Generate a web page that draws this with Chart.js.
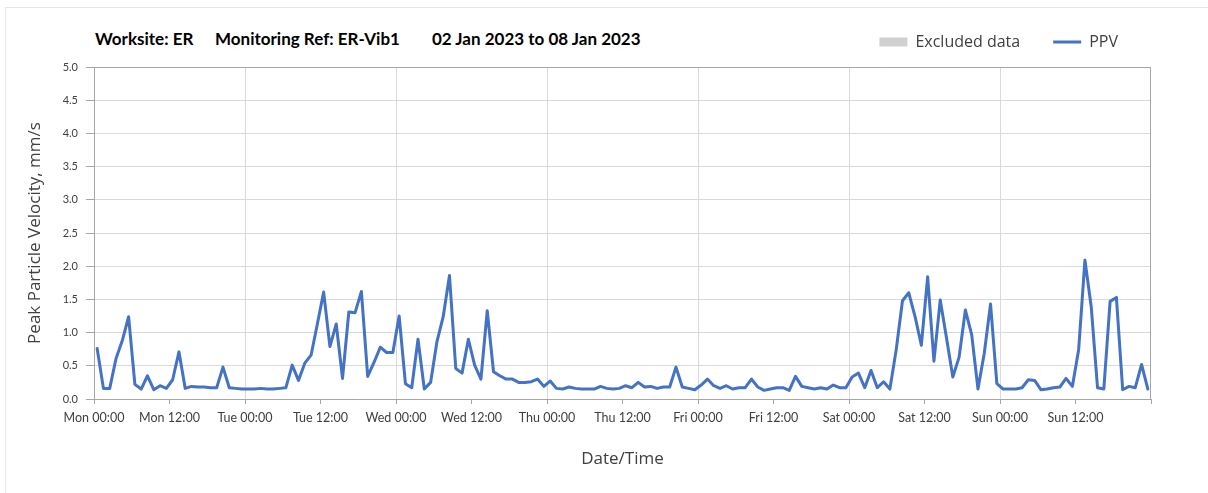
<!DOCTYPE html>
<html>
<head>
<meta charset="utf-8">
<title>PPV ER-Vib1</title>
<script src="https://cdn.jsdelivr.net/npm/chart.js@4.4.0/dist/chart.umd.min.js"></script>
<style>
    body { margin: 0; background: #fff; }
    .chart-box { position: relative; width: 1208px; height: 493px; overflow: hidden; }
    .chart-box canvas { position: absolute; left: 0; top: 0; }
    .frame { position: absolute; left: 5px; top: 7px; width: 1210px; height: 490px; border: 1px solid #e6e6e6; pointer-events: none; }
    .title { position: absolute; top: 28px; font: bold 17px Lato, sans-serif; color: #000; white-space: nowrap; }
</style>
</head>
<body>
<div class="chart-box">
    <div class="frame"></div>
    <span class="title" style="left:95px">Worksite: ER</span>
    <span class="title" style="left:215px">Monitoring Ref: ER-Vib1</span>
    <span class="title" style="left:432px">02 Jan 2023 to 08 Jan 2023</span>
    <canvas id="myChart" width="1208" height="493"></canvas>
</div>
<script>
"use strict"

// hourly PPV peaks, mm/s, Mon 02 Jan 00:00 -> Sun 08 Jan 24:00
const ppv = [
    0.76, 0.16, 0.16, 0.61, 0.88, 1.24, 0.22, 0.15, 0.35, 0.14, 0.20, 0.16,
    0.29, 0.71, 0.16, 0.19, 0.18, 0.18, 0.17, 0.17, 0.48, 0.17, 0.16, 0.15,
    0.15, 0.15, 0.16, 0.15, 0.15, 0.16, 0.17, 0.51, 0.28, 0.54, 0.66, 1.13,
    1.61, 0.79, 1.13, 0.31, 1.31, 1.30, 1.62, 0.34, 0.55, 0.78, 0.70, 0.70,
    1.25, 0.23, 0.17, 0.90, 0.15, 0.25, 0.86, 1.24, 1.86, 0.46, 0.39, 0.90,
    0.51, 0.30, 1.33, 0.41, 0.35, 0.30, 0.30, 0.25, 0.25, 0.26, 0.30, 0.19,
    0.27, 0.16, 0.15, 0.18, 0.16, 0.15, 0.15, 0.15, 0.19, 0.16, 0.15, 0.16,
    0.20, 0.17, 0.25, 0.18, 0.19, 0.16, 0.18, 0.18, 0.48, 0.18, 0.16, 0.14,
    0.21, 0.30, 0.20, 0.16, 0.20, 0.15, 0.17, 0.17, 0.30, 0.18, 0.13, 0.15,
    0.17, 0.17, 0.13, 0.34, 0.19, 0.17, 0.15, 0.17, 0.15, 0.21, 0.17, 0.17,
    0.33, 0.39, 0.17, 0.43, 0.17, 0.26, 0.15, 0.74, 1.48, 1.60, 1.24, 0.81,
    1.84, 0.57, 1.49, 0.92, 0.33, 0.63, 1.34, 0.97, 0.15, 0.69, 1.43, 0.23,
    0.15, 0.15, 0.15, 0.17, 0.29, 0.28, 0.14, 0.15, 0.17, 0.18, 0.31, 0.19,
    0.74, 2.09, 1.39, 0.17, 0.15, 1.47, 1.53, 0.14, 0.19, 0.17, 0.52, 0.15
]
const excluded = []

// x axis is hours since Mon 00:00, one tick label each 12 h
const xTickLabels = [
    'Mon 00:00', 'Mon 12:00', 'Tue 00:00', 'Tue 12:00', 'Wed 00:00', 'Wed 12:00',
    'Thu 00:00', 'Thu 12:00', 'Fri 00:00', 'Fri 12:00', 'Sat 00:00', 'Sat 12:00',
    'Sun 00:00', 'Sun 12:00'
]
const yTitle = 'Peak Particle Velocity, mm/s'
const xTitle = 'Date/Time'

const LINE_COLOR = '#4472c4'
const EXCLUDED_COLOR = '#d0d0d0'
const GRID_COLOR = '#d9d9d9'
const AXIS_COLOR = '#a6a6a6'
const TEXT_COLOR = '#404040'

// readings are hourly, plotted mid-hour
const points = ppv.map((v, i) => ({ x: i + 0.5, y: v }))

// top + right edge of the plot box
const plotFrame = {
    id: 'plotFrame',
    beforeDatasetsDraw(chart) {
        const { ctx, chartArea: a } = chart
        ctx.save()
        ctx.strokeStyle = AXIS_COLOR
        ctx.lineWidth = 1
        ctx.beginPath()
        ctx.moveTo(a.left, a.top + 0.5)
        ctx.lineTo(a.right - 0.5, a.top + 0.5)
        ctx.lineTo(a.right - 0.5, a.bottom)
        ctx.stroke()
        ctx.restore()
    }
}

// extra room under the legend
const legendGap = {
    id: 'legendGap',
    beforeInit(chart) {
        const fit = chart.legend.fit
        chart.legend.fit = function () {
            fit.bind(chart.legend)()
            this.height += 7
        }
    }
}

function drawChart() {
    const ctx = document.getElementById('myChart').getContext('2d')
    return new Chart(ctx, {
        type: 'line',
        data: {
            datasets: [
                {
                    label: 'Excluded data',
                    data: excluded,
                    backgroundColor: EXCLUDED_COLOR,
                    borderColor: EXCLUDED_COLOR,
                    pointRadius: 0
                },
                {
                    label: 'PPV',
                    data: points,
                    borderColor: LINE_COLOR,
                    backgroundColor: LINE_COLOR,
                    borderWidth: 3,
                    borderJoinStyle: 'round',
                    borderCapStyle: 'round',
                    pointRadius: 0,
                    tension: 0,
                    fill: false
                }
            ]
        },
        options: {
            responsive: false,
            animation: false,
            layout: { padding: { top: 1, right: 57, bottom: 0, left: 0 } },
            plugins: {
                tooltip: { enabled: false },
                legend: {
                    position: 'top',
                    align: 'end',
                    labels: {
                        usePointStyle: true,
                        pointStyleWidth: 28,
                        boxHeight: 9,
                        padding: 33,
                        color: TEXT_COLOR,
                        font: { family: "'Open Sans', sans-serif", size: 16 },
                        generateLabels: chart => chart.data.datasets.map((ds, i) => ({
                            text: ds.label,
                            datasetIndex: i,
                            fillStyle: ds.backgroundColor,
                            strokeStyle: ds.borderColor,
                            lineWidth: i === 0 ? 0 : 3,
                            pointStyle: i === 0 ? 'rect' : 'line',
                            fontColor: TEXT_COLOR,
                            hidden: false
                        }))
                    }
                }
            },
            scales: {
                x: {
                    type: 'linear',
                    min: 0,
                    max: 168,
                    afterFit: scale => { scale.height = 94 },
                    ticks: {
                        stepSize: 12,
                        autoSkip: false,
                        maxRotation: 0,
                        padding: 6,
                        color: TEXT_COLOR,
                        font: { family: 'Lato, sans-serif', size: 12.5 },
                        callback: v => xTickLabels[v / 12] || ''
                    },
                    grid: {
                        color: c => (c.tick && c.tick.value % 24 === 0 && c.tick.value > 0 && c.tick.value < 168) ? GRID_COLOR : 'rgba(0,0,0,0)',
                        tickColor: AXIS_COLOR,
                        tickLength: 5
                    },
                    border: { color: AXIS_COLOR, width: 1 },
                    title: {
                        display: true,
                        text: xTitle,
                        color: TEXT_COLOR,
                        font: { family: "'Open Sans', sans-serif", size: 17 },
                        padding: { top: 0, bottom: 24 }
                    }
                },
                y: {
                    min: 0,
                    max: 5,
                    afterFit: scale => { scale.width = 94 },
                    ticks: {
                        stepSize: 0.5,
                        padding: 8,
                        color: TEXT_COLOR,
                        font: { family: 'Lato, sans-serif', size: 11 },
                        callback: v => v.toFixed(1)
                    },
                    grid: {
                        color: GRID_COLOR,
                        tickColor: AXIS_COLOR,
                        tickLength: 8
                    },
                    border: { color: AXIS_COLOR, width: 1 },
                    title: {
                        display: true,
                        text: yTitle,
                        color: TEXT_COLOR,
                        font: { family: "'Open Sans', sans-serif", size: 17 },
                        padding: { top: 25, bottom: 0 }
                    }
                }
            }
        },
        plugins: [plotFrame, legendGap]
    })
}

drawChart()
</script>
</body>
</html>
